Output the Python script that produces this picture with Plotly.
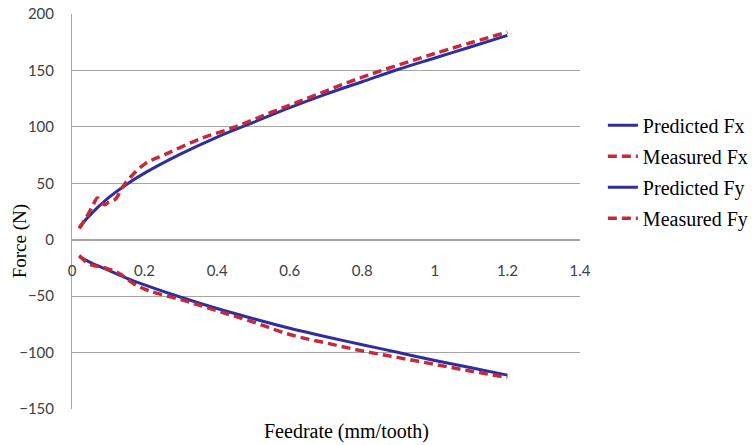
import plotly.graph_objects as go

# Predicted Fx
px_x = [0.02, 0.05, 0.1, 0.15, 0.2, 0.3, 0.4, 0.5, 0.6, 0.7, 0.8, 0.9, 1.0, 1.1, 1.2]
px_y = [11, 22, 37, 49, 59, 76, 91, 104, 117, 129, 140, 151, 161, 171, 181]

# Measured Fx
mx_x = [0.02, 0.04, 0.06, 0.07, 0.08, 0.09, 0.1, 0.12, 0.14, 0.16, 0.2, 0.26, 0.35, 0.45, 0.55, 0.63, 0.8, 1.0, 1.2]
mx_y = [10, 20, 32, 37, 33, 31, 33, 36, 47, 55, 67, 76, 89, 100, 113, 123, 144, 165, 184]

# Predicted Fy
py_x = [0.02, 0.05, 0.1, 0.15, 0.2, 0.3, 0.4, 0.5, 0.6, 0.7, 0.8, 0.9, 1.0, 1.1, 1.2]
py_y = [-15, -20, -27, -34, -40, -51, -61, -70, -78.5, -86, -93, -100, -107, -113.5, -120]

# Measured Fy
my_x = [0.02, 0.04, 0.06, 0.08, 0.1, 0.12, 0.14, 0.17, 0.21, 0.31, 0.4, 0.5, 0.6, 0.7, 0.8, 0.9, 1.0, 1.1, 1.2]
my_y = [-14, -20, -23, -24, -26, -28, -32, -39, -45, -54, -63, -73, -84, -91.5, -98.5, -104.5, -110.5, -116.5, -122]

x_ticks = [0, 0.2, 0.4, 0.6, 0.8, 1, 1.2, 1.4]
y_ticks = [-150, -100, -50, 0, 50, 100, 150, 200]

BLUE = "#2E2E9E"
RED = "#C42A3A"

fig = go.Figure()
fig.add_trace(go.Scatter(x=px_x, y=px_y, mode="lines", name="Predicted Fx",
                         line=dict(color=BLUE, width=3, shape="spline"), legendgroup="a"))
fig.add_trace(go.Scatter(x=mx_x, y=mx_y, mode="lines", name="Measured Fx",
                         line=dict(color=RED, width=3.5, dash="9px,5px", shape="spline"), legendgroup="b"))
fig.add_trace(go.Scatter(x=py_x, y=py_y, mode="lines", name="Predicted Fy",
                         line=dict(color=BLUE, width=3, shape="spline"), legendgroup="c"))
fig.add_trace(go.Scatter(x=my_x, y=my_y, mode="lines", name="Measured Fy",
                         line=dict(color=RED, width=3.5, dash="9px,5px", shape="spline"), legendgroup="d"))

GRID = "#A6A6A6"
tickfont = dict(family="Lato", size=15, color="#404040")

fig.update_layout(
    width=752, height=445,
    margin=dict(l=72, r=172, t=14, b=36, autoexpand=False),
    paper_bgcolor="white", plot_bgcolor="white",
    showlegend=True,
    legend=dict(x=1.045, y=0.768, xanchor="left", yanchor="top",
                font=dict(family="Liberation Serif", size=20, color="black"),
                traceorder="grouped", tracegroupgap=2, bgcolor="rgba(0,0,0,0)"),
    xaxis=dict(range=[0, 1.4], tickvals=x_ticks, ticktext=[str(t) for t in x_ticks],
               anchor="free", position=150 / 350, showgrid=False, zeroline=False,
               showline=True, linecolor=GRID, linewidth=1, ticks="",
               tickfont=tickfont, ticklabelstandoff=17),
    yaxis=dict(range=[-150, 200], tickvals=y_ticks, showgrid=True, gridcolor=GRID,
               gridwidth=1, zeroline=False, showline=True, linecolor=GRID, linewidth=1,
               ticks="", tickfont=tickfont, ticklabelstandoff=14),
    annotations=[
        dict(text="Force (N)", x=-0.102, y=0.425, xref="paper", yref="paper",
             xanchor="center", yanchor="middle", textangle=-90, showarrow=False,
             font=dict(family="Liberation Serif", size=19, color="black")),
        dict(text="Feedrate (mm/tooth)", x=0.541, y=-0.058, xref="paper", yref="paper",
             xanchor="center", yanchor="middle", showarrow=False,
             font=dict(family="Liberation Serif", size=20, color="black")),
    ],
)

fig.write_html("out.html")
